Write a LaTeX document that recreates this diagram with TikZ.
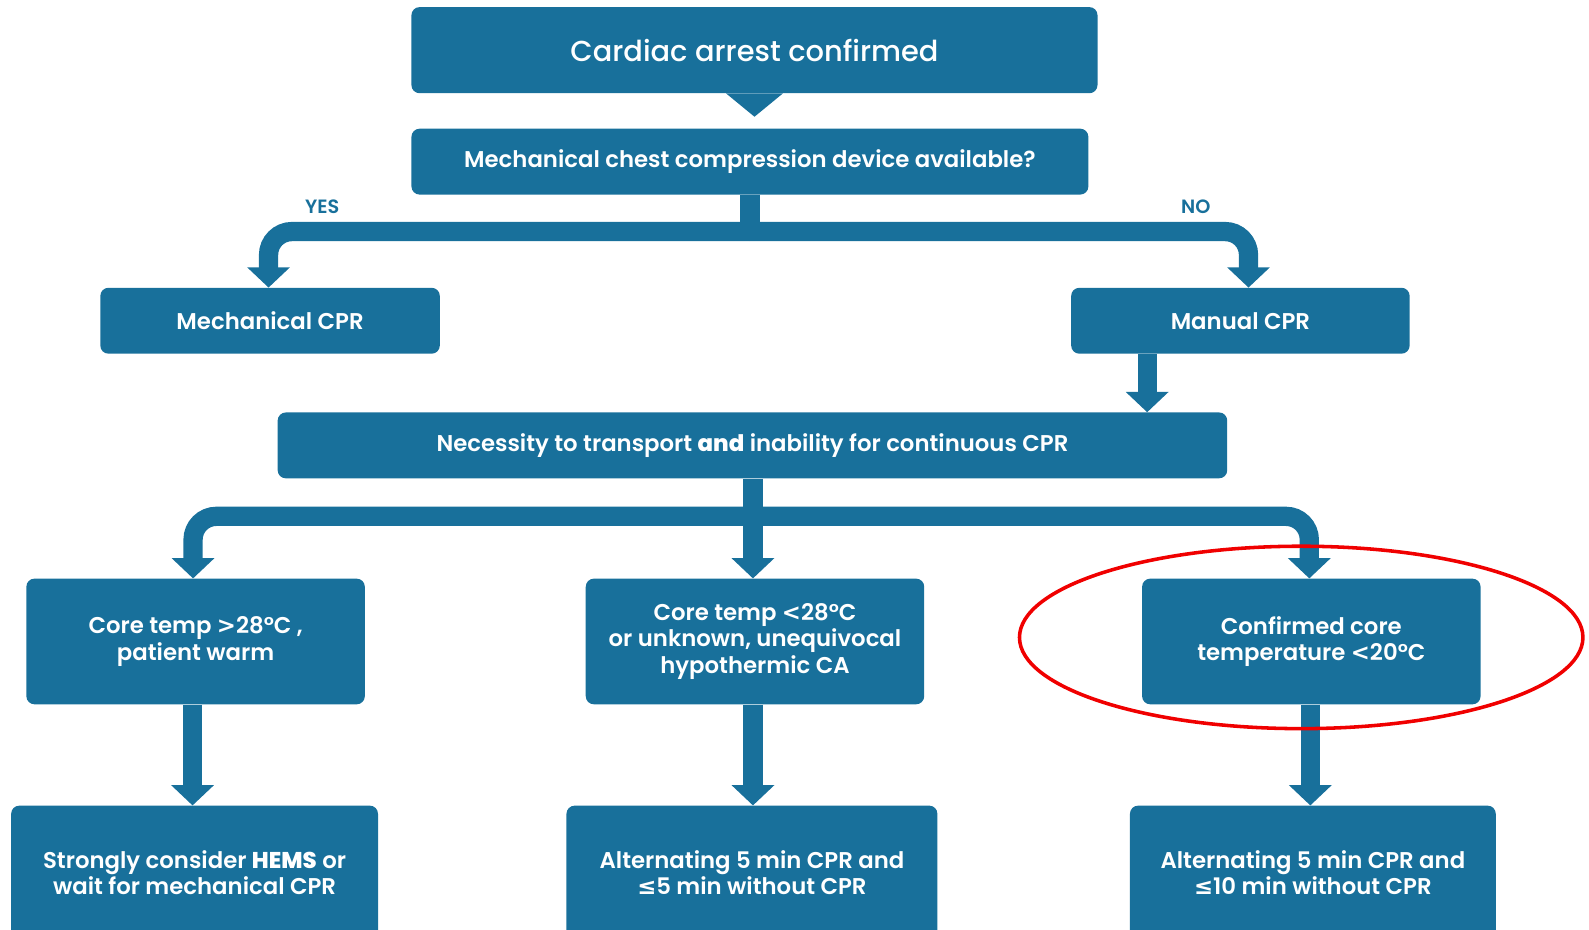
\documentclass[tikz,border=0pt]{standalone}
\usepackage{fontspec}
\setmainfont{Poppins}[BoldFont={Poppins SemiBold}]
\newfontfamily\heavy{Poppins ExtraBold}
\newfontfamily\titlefont{Poppins Medium}
\newfontfamily\symf{DejaVu Sans}
\usetikzlibrary{arrows.meta}
\definecolor{flowblue}{HTML}{18709B}
\definecolor{markred}{HTML}{F00000}
\newcommand{\leqsign}{{\symf\bfseries ≤}}
\newcommand{\ltsign}{{\symf <}}
\newcommand{\gtsign}{{\symf >}}
\tikzset{
  box/.style={fill=flowblue, rounded corners=8pt, text=white, align=center,
    font=\bfseries\fontsize{22.5}{26}\selectfont, inner sep=0pt},
  flow/.style={draw=flowblue, line width=19pt, rounded corners=23pt,
    -{Triangle[width=41pt,length=20pt]}},
  stem/.style={draw=flowblue, line width=19pt},
  branchlabel/.style={text=flowblue, font=\bfseries\fontsize{19}{22}\selectfont},
}
\begin{document}
\begin{tikzpicture}[x=1pt,y=-1pt]
\clip (0,0) rectangle (1568,917);

% decision boxes
\node[box, minimum width=677pt, minimum height=85pt,
      font=\titlefont\fontsize{28.5}{34}\selectfont] (start) at (744.5,49.5) {Cardiac arrest confirmed};
\fill[flowblue] ([xshift=-28pt]start.south) -- ([xshift=28pt]start.south)
  -- ([yshift=-23pt]start.south) -- cycle;
\node[box, minimum width=668pt, minimum height=65pt] (device) at (740,159.5)
  {Mechanical chest compression device available?};
\node[box, minimum width=335pt, minimum height=65pt] (mech) at (266.5,316.5) {Mechanical CPR};
\node[box, minimum width=334pt, minimum height=65pt] (manual) at (1224,316.5) {Manual CPR};
\node[box, minimum width=937pt, minimum height=65pt] (transport) at (742.5,439.5)
  {Necessity to transport {\heavy\mdseries and} inability for continuous CPR};

% temperature boxes
\node[box, minimum width=334pt, minimum height=124pt] (warm) at (193,633)
  {Core temp \gtsign28°C ,\\patient warm};
\node[box, minimum width=334pt, minimum height=124pt] (cold) at (745,633)
  {Core temp \ltsign28°C\\or unknown, unequivocal\\hypothermic CA};
\node[box, minimum width=334pt, minimum height=124pt] (deep) at (1294,633)
  {Confirmed core\\temperature \ltsign20°C};

% action boxes
\node[box, minimum width=362pt, minimum height=132pt] (hems) at (192,861)
  {Strongly consider {\heavy\mdseries HEMS} or\\wait for mechanical CPR};
\node[box, minimum width=366pt, minimum height=132pt] (alt5) at (742,861)
  {Alternating 5 min CPR and\\\leqsign5 min without CPR};
\node[box, minimum width=361pt, minimum height=132pt] (alt10) at (1295.5,861)
  {Alternating 5 min CPR and\\\leqsign10 min without CPR};

% first split
\coordinate (j1) at (740,228.5);
\draw[stem] (device.south) -- (j1);
\draw[flow] (j1) -| ([xshift=-1.5pt]mech.north);
\draw[flow] (j1) -| ([xshift=8pt]manual.north);
\node[branchlabel] (yes) at (318,204) {YES};
\node[branchlabel] (no) at (1180,204) {NO};

\draw[flow] ([xshift=-92pt]manual.south) -- ([xshift=-92pt]manual.south |- transport.north);

% second split
\coordinate (j2) at (743,509.5);
\draw[flow] (transport.south -| j2) -- (cold.north -| j2);
\draw[flow] (j2) -| ([xshift=-2.5pt]warm.north);
\draw[flow] (j2) -| ([xshift=-2pt]deep.north);

\draw[flow] ([xshift=-3pt]warm.south) -- ([xshift=-3pt]warm.south |- hems.north);
\draw[flow] ([xshift=-2pt]cold.south) -- ([xshift=-2pt]cold.south |- alt5.north);
\draw[flow] ([xshift=-1pt]deep.south) -- ([xshift=-1pt]deep.south |- alt10.north);

% highlight
\draw[markred, line width=3.5pt] (1284,629) ellipse [x radius=278pt, y radius=90pt];
\end{tikzpicture}
\end{document}
